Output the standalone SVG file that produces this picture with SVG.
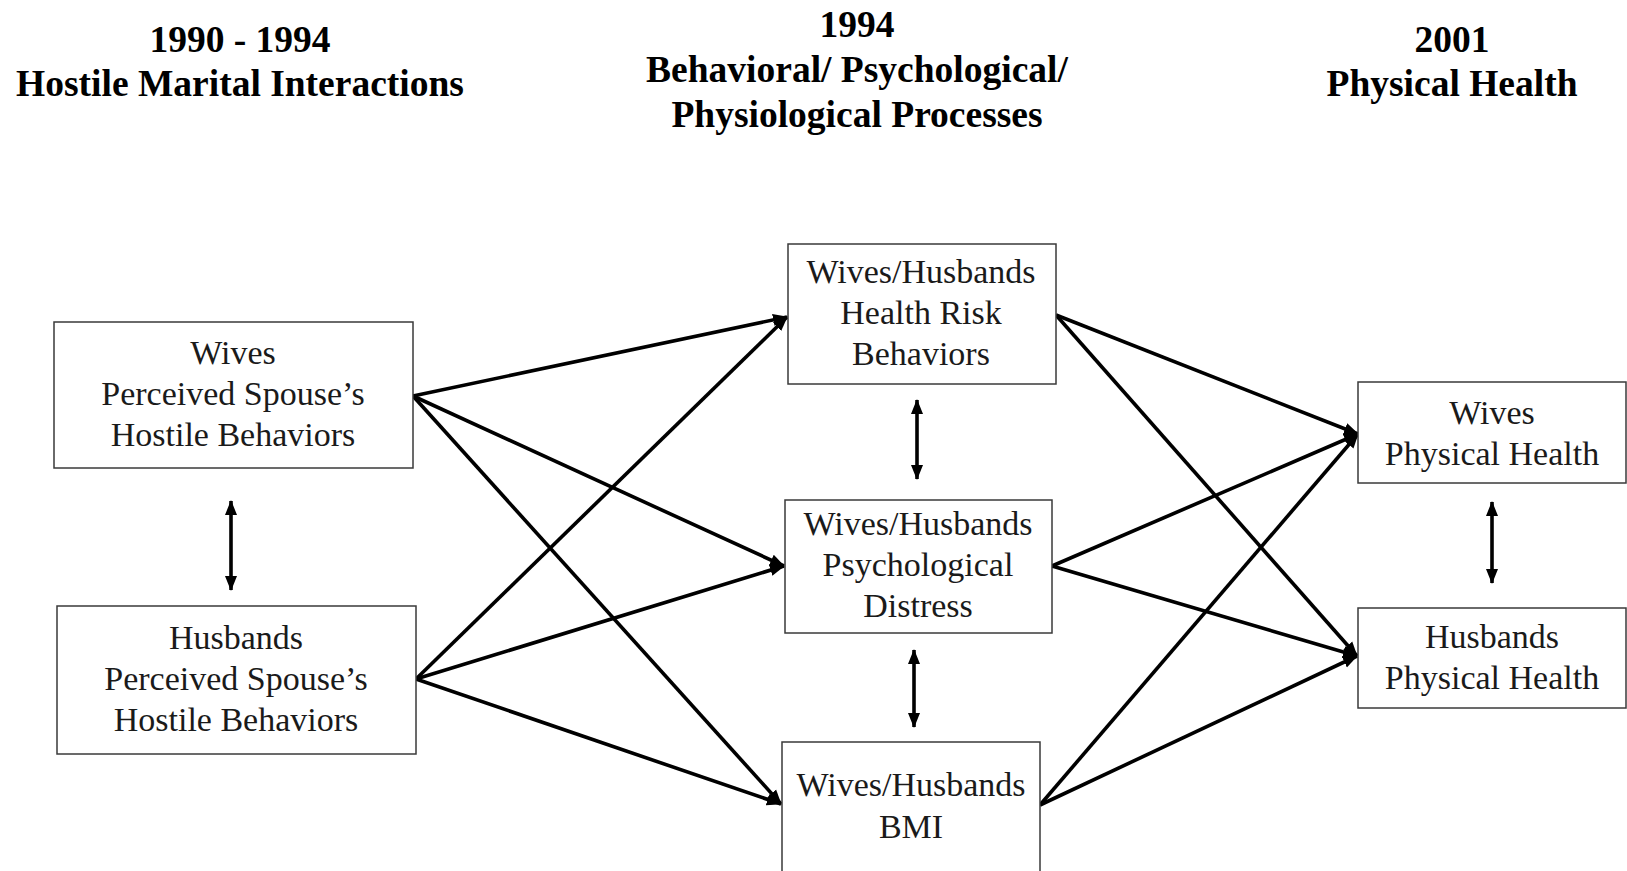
<svg xmlns="http://www.w3.org/2000/svg" width="1627" height="871" viewBox="0 0 1627 871">
  <style>
    .hdr { font-family: "Liberation Serif", "Times New Roman", serif; font-weight: bold; font-size: 37.5px; fill: #000; text-anchor: middle; }
    .box { fill: #fff; stroke: #3a3a3a; stroke-width: 1.5; }
    .lbl { font-family: "Liberation Serif", "Times New Roman", serif; font-size: 34px; fill: #1a1a1a; text-anchor: middle; }
    .path { fill: none; stroke: #000; stroke-width: 3.6; marker-end: url(#head); }
    .corr { fill: none; stroke: #000; stroke-width: 3.6; marker-start: url(#head); marker-end: url(#head); }
  </style>
  <defs>
    <marker id="head" markerUnits="userSpaceOnUse" markerWidth="16" markerHeight="13" refX="14" refY="6" orient="auto-start-reverse" viewBox="0 0 16 12">
      <path d="M0,0 L15,6 L0,12 z" fill="#000"/>
    </marker>
  </defs>

  <rect width="1627" height="871" fill="#fff"/>

  <!-- column headings -->
  <g id="headings">
    <text class="hdr" x="240" y="52">1990 - 1994</text>
    <text class="hdr" x="240" y="96">Hostile Marital Interactions</text>
    <text class="hdr" x="857" y="37">1994</text>
    <text class="hdr" x="857" y="82">Behavioral/ Psychological/</text>
    <text class="hdr" x="857" y="127">Physiological Processes</text>
    <text class="hdr" x="1452" y="52">2001</text>
    <text class="hdr" x="1452" y="96">Physical Health</text>
  </g>

  <!-- connectors -->
  <g id="connectors">
    <!-- from hostile behaviors to processes -->
    <line class="path" x1="413" y1="396" x2="787" y2="317"/>
    <line class="path" x1="413" y1="396" x2="784" y2="566"/>
    <line class="path" x1="413" y1="396" x2="781" y2="804"/>
    <line class="path" x1="416" y1="679" x2="787" y2="317"/>
    <line class="path" x1="416" y1="679" x2="784" y2="566"/>
    <line class="path" x1="416" y1="679" x2="781" y2="804"/>
    <!-- from processes to physical health -->
    <line class="path" x1="1056" y1="315" x2="1358" y2="434"/>
    <line class="path" x1="1056" y1="315" x2="1357" y2="656"/>
    <line class="path" x1="1052" y1="566" x2="1358" y2="434"/>
    <line class="path" x1="1052" y1="566" x2="1357" y2="656"/>
    <line class="path" x1="1040" y1="805" x2="1358" y2="434"/>
    <line class="path" x1="1040" y1="805" x2="1357" y2="656"/>
    <!-- correlations -->
    <line class="corr" x1="231" y1="501" x2="231" y2="590"/>
    <line class="corr" x1="917" y1="400" x2="917" y2="479"/>
    <line class="corr" x1="914" y1="650" x2="914" y2="727"/>
    <line class="corr" x1="1492" y1="502" x2="1492" y2="583"/>
  </g>

  <g id="wives-hostile">
    <rect class="box" x="54" y="322" width="359" height="146"/>
    <text class="lbl" x="233" y="364">Wives</text>
    <text class="lbl" x="233" y="405">Perceived Spouse’s</text>
    <text class="lbl" x="233" y="446">Hostile Behaviors</text>
  </g>

  <g id="husbands-hostile">
    <rect class="box" x="57" y="606" width="359" height="148"/>
    <text class="lbl" x="236" y="649">Husbands</text>
    <text class="lbl" x="236" y="690">Perceived Spouse’s</text>
    <text class="lbl" x="236" y="731">Hostile Behaviors</text>
  </g>

  <g id="health-risk">
    <rect class="box" x="788" y="244" width="268" height="140"/>
    <text class="lbl" x="921" y="283">Wives/Husbands</text>
    <text class="lbl" x="921" y="324">Health Risk</text>
    <text class="lbl" x="921" y="365">Behaviors</text>
  </g>

  <g id="distress">
    <rect class="box" x="785" y="500" width="267" height="133"/>
    <text class="lbl" x="918" y="535">Wives/Husbands</text>
    <text class="lbl" x="918" y="576">Psychological</text>
    <text class="lbl" x="918" y="617">Distress</text>
  </g>

  <g id="bmi">
    <rect class="box" x="782" y="742" width="258" height="140"/>
    <text class="lbl" x="911" y="796">Wives/Husbands</text>
    <text class="lbl" x="911" y="838">BMI</text>
  </g>

  <g id="wives-health">
    <rect class="box" x="1358" y="382" width="268" height="101"/>
    <text class="lbl" x="1492" y="424">Wives</text>
    <text class="lbl" x="1492" y="465">Physical Health</text>
  </g>

  <g id="husbands-health">
    <rect class="box" x="1358" y="608" width="268" height="100"/>
    <text class="lbl" x="1492" y="648">Husbands</text>
    <text class="lbl" x="1492" y="689">Physical Health</text>
  </g>
</svg>
